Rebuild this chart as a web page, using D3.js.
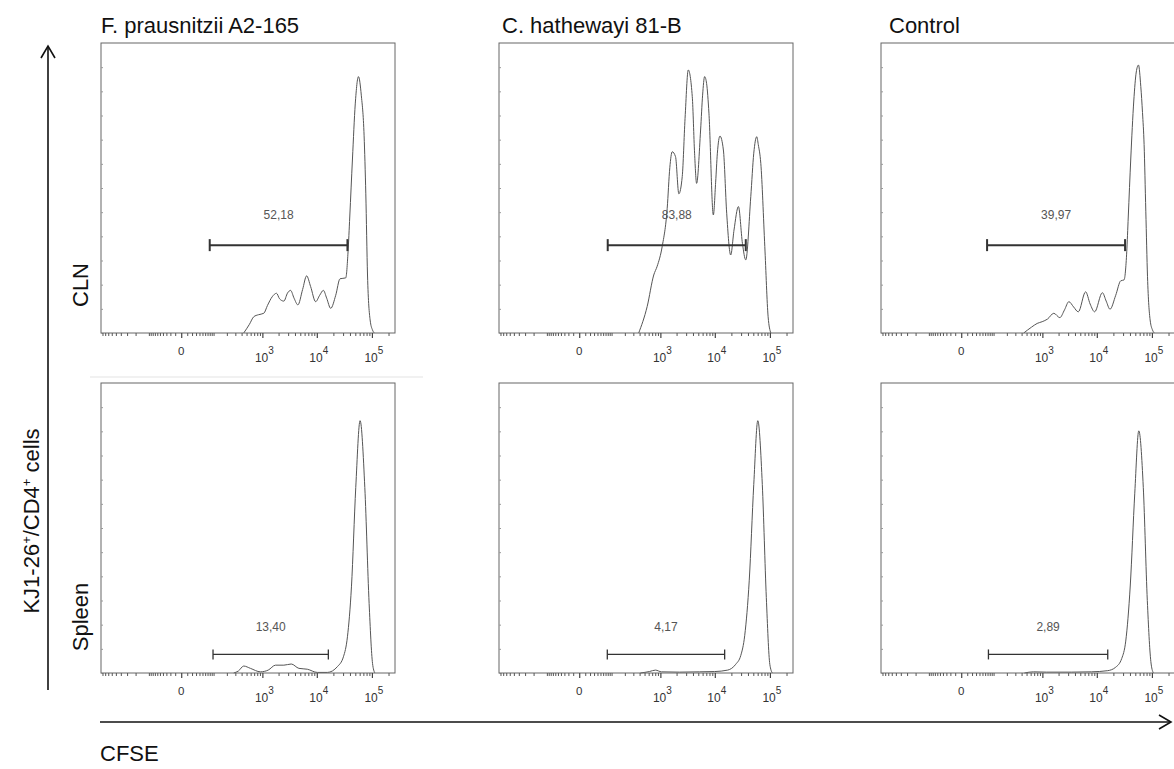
<!DOCTYPE html>
<html>
<head>
<meta charset="utf-8">
<script src="https://cdn.jsdelivr.net/npm/d3@7"></script>
<style>
  body { margin: 0; background: #fff; }
  text { font-family: "Liberation Sans", Arial, sans-serif; }
</style>
</head>
<body>
<script>
// ---------------------------------------------------------------------------
// Data: CFSE histograms ([CFSE intensity, % of max]) for each organ x strain
// ---------------------------------------------------------------------------
const columns = ['F. prausnitzii A2-165', 'C. hathewayi 81-B', 'Control'];
const rows = ['CLN', 'Spleen'];

const clnFprau = [[440,0],[568,3],[687,5.6],[844,6.3],[1063,6.8],[1246,9.5],[1525,12.5],[1834,13.7],
  [2083,11.8],[2500,11],[2926,13.8],[3322,14.7],[3850,12],[4522,9.7],[5513,15],[6524,19.7],[7720,16],
  [9527,10.8],[11270,13],[13160,14.7],[15120,12],[17880,8.5],[22050,13],[26400,18.7],[33530,19],
  [36920,28],[39650,40],[44380,60],[49900,79],[57080,88.4],[64200,82],[72170,68],[77520,48],
  [83230,20],[92800,4.5],[102650,1],[110640,0]];
const clnChath = [[384,0],[561,9.1],[750,20],[870,23],[1081,29.8],[1341,43],[1499,57],[1662,62.5],
  [1913,60.8],[2202,48],[2544,54],[2865,74],[3280,90.7],[3884,81.5],[4280,62],[4660,51.6],[5513,70],
  [5995,82],[6524,88.4],[7095,86],[7820,75.8],[9405,40.7],[10360,52],[11130,62],[12410,67.9],
  [14320,63.1],[16440,41.3],[19450,26.9],[22330,35.5],[26860,43.6],[31750,30.9],[36470,25.2],
  [44980,47],[50960,62],[57830,67.7],[61500,65],[68360,58.5],[80810,29.8],[92800,5.6],[103900,0]];
const clnControl = [[440,0],[621,2],[798,3.3],[992,3.9],[1246,4.8],[1633,6.8],[2110,5.3],[2576,8],
  [3090,10.8],[3770,9],[4600,7.3],[6255,14.2],[7560,10],[9130,7.3],[12620,13.9],[14810,11],
  [17370,8.2],[22050,13],[27200,18],[31220,18.3],[34965,28],[37240,40],[41340,60],[46900,80],
  [52040,90],[57080,92.4],[62860,85],[67520,76],[72170,65],[77520,42],[83230,19.4],[92800,4.5],
  [102650,1],[110640,0]];
const splFprau = [[278,0],[346,0.7],[440,2.4],[594,1.6],[921,0.4],[1285,1],[1757,2.7],[2500,2.7],
  [3421,3.1],[4720,1.6],[6720,1.3],[10230,0.2],[15570,0.2],[23680,2.2],[30450,5.6],[36000,12.5],
  [42560,29.7],[50960,64],[61040,87],[74340,64],[89000,24],[102650,3.3],[112990,0]];
const splChath = [[415,0],[621,0.5],[808,1],[1049,0.4],[2268,0.3],[5286,0.4],[9934,0.5],[17150,1],
  [23980,3],[29580,6],[34965,13],[42210,32],[50960,65],[60300,87],[72800,65],[86070,26],[99650,3],
  [110640,0]];
const splControl = [[454,0],[678,0.4],[1195,0.3],[3465,0.3],[8050,0.4],[15760,0.8],[22050,2],
  [28360,5],[33530,11],[40460,30],[48890,62],[57830,83.5],[69790,64],[82530,25],[95600,4],[106100,0]];

const histograms = [[clnFprau, clnChath, clnControl], [splFprau, splChath, splControl]];

// proliferation gates [low, high] and their percentages
const gates = [[[80,36000],[80,36500],[68,32600]], [[97,16200],[78,15100],[74,15800]]];
const gateLabels = [['52,18','83,88','39,97'], ['13,40','4,17','2,89']];

const majorTicks = [0, 1e3, 1e4, 1e5];
const majorLabels = ['0', '3', '4', '5'];

// ---------------------------------------------------------------------------
// Layout
// ---------------------------------------------------------------------------
const W = 1174, H = 769;
const panelLeft = [101, 499, 881];
const titleShift = [0, 3, 8];
const rowTop = [43, 383];
const panelW = 294, panelH = 290;
const gateY = [30.3, 6.4];

const svg = d3.select('body').append('svg')
  .attr('width', W).attr('height', H);

// biexponential-like display: symlog around zero
const x = d3.scaleSymlog().constant(35).domain([-960, 262144]).range([0, panelW]);
const y = d3.scaleLinear().domain([0, 100]).range([panelH, 0]);

const line = d3.line()
  .x(d => x(d[0]))
  .y(d => y(d[1]))
  .curve(d3.curveMonotoneX);

// minor ticks: k*10^n on both sides of zero
const minorTicks = [];
[10, 100].forEach(p => d3.range(1, 10).forEach(k => { if (-k * p >= -960) minorTicks.push(-k * p); }));
[10, 100, 1000, 10000, 100000].forEach(p => d3.range(1, 10).forEach(k => {
  const v = k * p;
  if (v <= 262144 && !majorTicks.includes(v)) minorTicks.push(v);
}));

// faint scan artefact above the lower-left panel
svg.append('line')
  .attr('x1', 90).attr('x2', 423).attr('y1', 377).attr('y2', 377)
  .attr('stroke', '#ececec').attr('stroke-width', 1.5);

rows.forEach((row, r) => {
  columns.forEach((col, c) => {
    const g = svg.append('g')
      .attr('transform', `translate(${panelLeft[c]},${rowTop[r]})`);

    // histogram
    g.append('path')
      .datum(histograms[r][c])
      .attr('d', line)
      .attr('fill', 'none')
      .attr('stroke', '#555')
      .attr('stroke-width', 1);

    // frame
    g.append('rect')
      .attr('width', panelW).attr('height', panelH)
      .attr('fill', 'none').attr('stroke', '#666').attr('stroke-width', 1);

    // tiny inner ticks on the left edge
    g.append('g')
      .call(d3.axisRight(y).tickValues(d3.range(0, 100, 100 / 12)).tickSize(2).tickFormat(''))
      .call(s => s.select('.domain').remove())
      .selectAll('line').attr('stroke', '#999');

    // x axis ticks
    g.append('g')
      .attr('transform', `translate(0,${panelH})`)
      .call(d3.axisBottom(x).tickValues(minorTicks).tickSize(3).tickFormat(''))
      .call(s => s.select('.domain').remove())
      .selectAll('line').attr('stroke', '#555');
    g.append('g')
      .attr('transform', `translate(0,${panelH})`)
      .call(d3.axisBottom(x).tickValues(majorTicks).tickSize(5).tickFormat(''))
      .call(s => s.select('.domain').remove())
      .selectAll('line').attr('stroke', '#444').attr('stroke-width', 1.2);

    // tick labels
    majorTicks.forEach((t, i) => {
      if (t === 0) {
        g.append('text')
          .attr('x', x(t)).attr('y', panelH + 22)
          .attr('text-anchor', 'middle')
          .attr('font-size', 11.5).attr('fill', '#333')
          .text('0');
      } else {
        const lab = g.append('text')
          .attr('x', x(t) + 2).attr('y', panelH + 29)
          .attr('text-anchor', 'middle')
          .attr('font-size', 12).attr('fill', '#333');
        lab.append('tspan').text('10');
        lab.append('tspan').attr('dy', -8).attr('font-size', 10).text(majorLabels[i]);
      }
    });

    // gate bar
    const gx0 = x(gates[r][c][0]), gx1 = x(gates[r][c][1]);
    const gy = y(gateY[r]);
    const cap = r === 0 ? 6 : 5;
    const gw = r === 0 ? 2 : 1.3;
    const gate = g.append('g').attr('stroke', '#333').attr('stroke-width', gw);
    gate.append('line').attr('x1', gx0).attr('x2', gx1).attr('y1', gy).attr('y2', gy);
    gate.append('line').attr('x1', gx0).attr('x2', gx0).attr('y1', gy - cap).attr('y2', gy + cap);
    gate.append('line').attr('x1', gx1).attr('x2', gx1).attr('y1', gy - cap).attr('y2', gy + cap);
    g.append('text')
      .attr('x', (gx0 + gx1) / 2).attr('y', gy - (r === 0 ? 26 : 23))
      .attr('text-anchor', 'middle')
      .attr('font-size', 12).attr('fill', '#555')
      .text(gateLabels[r][c]);
  });
});

// column titles
columns.forEach((col, c) => {
  svg.append('text')
    .attr('x', panelLeft[c] + titleShift[c]).attr('y', 33)
    .attr('font-size', 22).attr('fill', '#111')
    .text(col);
});

// row labels
const rowCenter = [285, 617];
rows.forEach((row, r) => {
  svg.append('text')
    .attr('transform', `translate(88,${rowCenter[r]}) rotate(-90)`)
    .attr('text-anchor', 'middle')
    .attr('font-size', 22).attr('fill', '#111')
    .text(row);
});

// y-axis title with superscripts
const yt = svg.append('text')
  .attr('transform', 'translate(39,521) rotate(-90)')
  .attr('text-anchor', 'middle')
  .attr('font-size', 22).attr('fill', '#111');
yt.append('tspan').text('KJ1-26');
yt.append('tspan').attr('dy', -8).attr('font-size', 13).text('+');
yt.append('tspan').attr('dy', 8).text('/CD4');
yt.append('tspan').attr('dy', -8).attr('font-size', 13).text('+');
yt.append('tspan').attr('dy', 8).text(' cells');

// arrows
const arrows = svg.append('g').attr('stroke', '#111').attr('stroke-width', 1.6).attr('fill', 'none');
arrows.append('line').attr('x1', 48).attr('x2', 48).attr('y1', 690).attr('y2', 46);
arrows.append('path').attr('d', 'M41,58 L48,46 L55,58');
arrows.append('line').attr('x1', 100).attr('x2', 1171).attr('y1', 722).attr('y2', 722);
arrows.append('path').attr('d', 'M1159,715 L1171,722 L1159,729');

svg.append('text')
  .attr('x', 100).attr('y', 761)
  .attr('font-size', 22).attr('fill', '#111')
  .text('CFSE');
</script>
</body>
</html>
